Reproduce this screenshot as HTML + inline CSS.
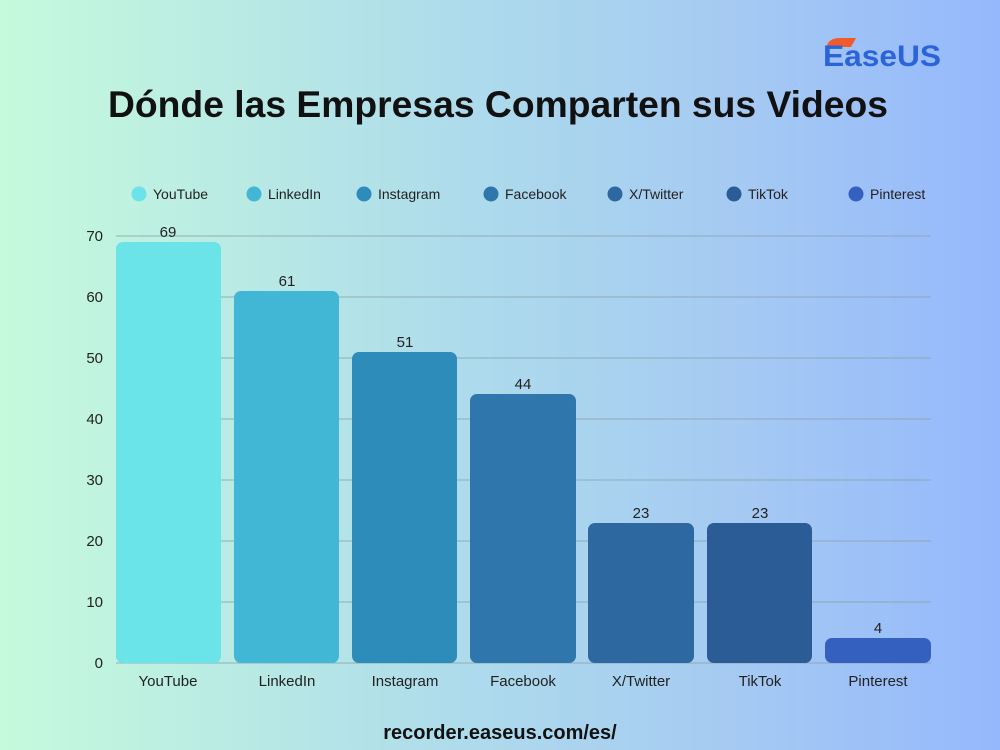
<!DOCTYPE html>
<html><head><meta charset="utf-8"><style>
body{margin:0;width:1000px;height:750px;overflow:hidden;background:linear-gradient(90deg,#c6fadc 0%,#aedceb 45%,#a5c9f3 75%,#95b8fc 100%);font-family:"Liberation Sans",sans-serif;}
</style></head><body>
<svg width="1000" height="750" xmlns="http://www.w3.org/2000/svg" style="position:absolute;left:0;top:0">
<text x="498" y="117" text-anchor="middle" font-size="37" font-weight="bold" fill="#111" textLength="780" lengthAdjust="spacingAndGlyphs">Dónde las Empresas Comparten sus Videos</text>
<g>
<path d="M826 48 q2 -10 14 -10 h16 l-5 9 h-16 q-6 0 -9 1 z" fill="#f15a2b"/>
<text x="823" y="66" font-size="30" font-weight="bold" fill="#2a64d8" textLength="118" lengthAdjust="spacingAndGlyphs">EaseUS</text>
</g>
<g font-size="14" fill="#222">
<circle cx="139" cy="194" r="7.5" fill="#6ae3e9"/><text x="153" y="199">YouTube</text>
<circle cx="254" cy="194" r="7.5" fill="#42b6d5"/><text x="268" y="199">LinkedIn</text>
<circle cx="364" cy="194" r="7.5" fill="#2d8cba"/><text x="378" y="199">Instagram</text>
<circle cx="491" cy="194" r="7.5" fill="#2e76ab"/><text x="505" y="199">Facebook</text>
<circle cx="615" cy="194" r="7.5" fill="#2d68a0"/><text x="629" y="199">X/Twitter</text>
<circle cx="734" cy="194" r="7.5" fill="#2c5c96"/><text x="748" y="199">TikTok</text>
<circle cx="856" cy="194" r="7.5" fill="#3461bf"/><text x="870" y="199">Pinterest</text>
</g>
<g stroke="#8aa0a8" stroke-width="1" opacity="0.8">
<line x1="116" x2="931" y1="236" y2="236"/><line x1="116" x2="931" y1="297" y2="297"/>
<line x1="116" x2="931" y1="358" y2="358"/><line x1="116" x2="931" y1="419" y2="419"/>
<line x1="116" x2="931" y1="480" y2="480"/><line x1="116" x2="931" y1="541" y2="541"/>
<line x1="116" x2="931" y1="602" y2="602"/><line x1="116" x2="931" y1="663" y2="663"/>
</g>
<g font-size="15" fill="#222" text-anchor="end">
<text x="103" y="241">70</text><text x="103" y="302">60</text><text x="103" y="363">50</text>
<text x="103" y="424">40</text><text x="103" y="485">30</text><text x="103" y="546">20</text>
<text x="103" y="607">10</text><text x="103" y="668">0</text>
</g>
<g>
<rect x="116" y="242" width="105" height="421" rx="7" fill="#6ae3e9"/>
<rect x="234" y="291" width="105" height="372" rx="7" fill="#42b6d5"/>
<rect x="352" y="352" width="105" height="311" rx="7" fill="#2d8cba"/>
<rect x="470" y="394" width="106" height="269" rx="7" fill="#2e76ab"/>
<rect x="588" y="523" width="106" height="140" rx="7" fill="#2d68a0"/>
<rect x="707" y="523" width="105" height="140" rx="7" fill="#2c5c96"/>
<rect x="825" y="638" width="106" height="25" rx="7" fill="#3461bf"/>
</g>
<g font-size="15" fill="#222" text-anchor="middle">
<text x="168" y="237">69</text><text x="287" y="286">61</text><text x="405" y="347">51</text>
<text x="523" y="389">44</text><text x="641" y="518">23</text><text x="760" y="518">23</text><text x="878" y="633">4</text>
<text x="168" y="686">YouTube</text><text x="287" y="686">LinkedIn</text><text x="405" y="686">Instagram</text>
<text x="523" y="686">Facebook</text><text x="641" y="686">X/Twitter</text><text x="760" y="686">TikTok</text><text x="878" y="686">Pinterest</text>
</g>
<text x="500" y="739" text-anchor="middle" font-size="20" font-weight="bold" fill="#111">recorder.easeus.com/es/</text>
</svg>
</body></html>
